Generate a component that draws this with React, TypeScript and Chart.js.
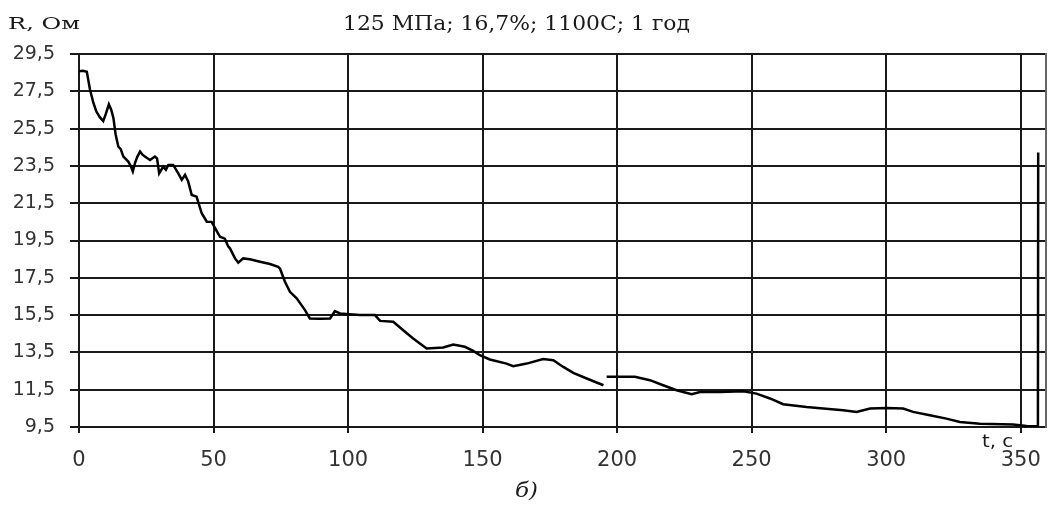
import React, { useEffect, useRef } from "react";
import { Chart, registerables } from "chart.js";

Chart.register(...registerables);

// time, s
const timeValues: number[] = [
  0, 1.5, 2.9, 4.1, 5.3, 6.5, 7.8, 9.0, 10.0, 11.1, 12.0, 12.8, 13.6, 14.6, 15.5, 16.5, 18.3, 19.2, 20.0, 20.8,
  21.7, 22.7, 23.6, 24.5, 26.4, 28.2, 29.0, 29.8, 31.3, 32.3, 33.2, 35.0, 36.9, 38.2, 39.4, 40.6, 41.9, 43.7,
  45.6, 47.5, 49.3, 51.2, 52.4, 54.2, 55.5, 56.1, 58.0, 59.2, 61.0, 63.5, 67.3, 71.0, 74.0, 74.7, 76.5, 78.4,
  80.9, 84.0, 85.8, 89.5, 93.3, 95.1, 97.0, 100.5, 104.4, 110.0, 111.9, 116.8, 120.5, 124.2, 129.2, 135.4,
  139.1, 143.4, 146.5, 149.0, 152.7, 158.9, 161.4, 166.4, 172.5, 176.3, 180.0, 183.7, 188.7, 194.9, 195.5,
  196.1, 206.6, 212.2, 217.1, 222.1, 227.7, 230.8, 238.2, 246.9, 251.8, 256.8, 261.7, 270.4, 276.6, 284.0,
  289.0, 294.0, 300.1, 306.3, 310.0, 316.2, 322.4, 327.4, 334.8, 347.2, 352.2, 356.4, 356.5,
];

// resistance, Ohm (null = break in the record)
const resistanceValues: (number | null)[] = [
  28.57, 28.6, 28.55, 27.58, 26.9, 26.4, 26.1, 25.9, 26.3, 26.8, 26.5, 26.06, 25.2, 24.54, 24.4, 24.0, 23.73, 23.5, 23.2, 23.65,
  24.0, 24.27, 24.1, 24.0, 23.82, 24.0, 23.9, 23.1, 23.46, 23.29, 23.55, 23.55, 23.1, 22.75, 23.02, 22.66, 21.94, 21.85,
  20.96, 20.51, 20.5, 20.0, 19.7, 19.6, 19.17, 19.08, 18.54, 18.31, 18.54, 18.49, 18.36, 18.24, 18.09, 18.0, 17.3, 16.75,
  16.4, 15.77, 15.32, 15.3, 15.32, 15.71, 15.59, 15.55, 15.5, 15.5, 15.19, 15.14, 14.69, 14.25, 13.71, 13.76,
  13.92, 13.8, 13.58, 13.35, 13.12, 12.9, 12.76, 12.9, 13.14, 13.08, 12.72, 12.4, 12.1, 11.74, null,
  12.19, 12.19, 12.01, 11.74, 11.47, 11.26, 11.38, 11.38, 11.42, 11.29, 11.03, 10.72, 10.57, 10.49, 10.4,
  10.31, 10.49, 10.52, 10.49, 10.31, 10.13, 9.95, 9.77, 9.68, 9.63, 9.55, 9.54, 24.22,
];

const xTickValues: number[] = [0, 50, 100, 150, 200, 250, 300, 350];
const yTickValues: number[] = [9.5, 11.5, 13.5, 15.5, 17.5, 19.5, 21.5, 23.5, 25.5, 27.5, 29.5];

const yMin = 9.5;
const yMax = 29.5;
const xMin = 0;
const xMax = 359.4;

const titleText = "125 МПа; 16,7%; 1100С; 1 год";
const yAxisTitle = "R, Ом";
const xAxisTitle = "t, с";
const captionText = "б)";

function drawFitted(
  ctx: CanvasRenderingContext2D,
  text: string,
  x: number,
  y: number,
  font: string,
  align: "left" | "center",
  width: number
) {
  ctx.save();
  ctx.font = font;
  ctx.fillStyle = "#1a1a1a";
  ctx.textBaseline = "alphabetic";
  const w = ctx.measureText(text).width;
  const sx = width / w;
  const left = align === "center" ? x - width / 2 : x;
  ctx.translate(left, y);
  ctx.scale(sx, 1);
  ctx.textAlign = "left";
  ctx.fillText(text, 0, 0);
  ctx.restore();
}

const overlayPlugin = {
  id: "overlay",
  afterDraw(chart: any) {
    const { ctx, chartArea } = chart;
    ctx.save();
    ctx.strokeStyle = "#666";
    ctx.lineWidth = 2;
    ctx.beginPath();
    ctx.moveTo(chartArea.right, chartArea.top - 1);
    ctx.lineTo(chartArea.right, chartArea.bottom + 1);
    ctx.stroke();
    ctx.restore();
    drawFitted(ctx, yAxisTitle, 8, 29, '17px "DejaVu Serif"', "left", 72);
    drawFitted(ctx, titleText, 516.5, 30, '20px "DejaVu Serif"', "center", 347);
    drawFitted(ctx, xAxisTitle, 982, 447, '17px "DejaVu Sans"', "left", 31);
    drawFitted(ctx, captionText, 526.5, 497, 'italic 20px "DejaVu Serif"', "center", 23);
  },
};

export default function App() {
  const canvasRef = useRef<HTMLCanvasElement | null>(null);

  useEffect(() => {
    const canvas = canvasRef.current;
    if (!canvas) return;
    const points = timeValues.map((t, i) => ({ x: t, y: resistanceValues[i] }));
    const chart = new Chart(canvas, {
      type: "line",
      data: {
        datasets: [
          {
            data: points as any,
            borderColor: "#000",
            borderWidth: 2.5,
            pointRadius: 0,
            tension: 0,
            spanGaps: false,
            fill: false,
          },
        ],
      },
      options: {
        animation: false,
        responsive: false,
        devicePixelRatio: 1,
        events: [],
        layout: { padding: { left: 0, right: 3, top: 54, bottom: 0 } },
        plugins: { legend: { display: false }, tooltip: { enabled: false }, title: { display: false } },
        scales: {
          x: {
            type: "linear",
            min: xMin,
            max: xMax,
            afterFit: (s: any) => {
              s.height = 79;
              s.paddingLeft = 0;
              s.paddingRight = 0;
            },
            afterBuildTicks: (s: any) => {
              s.ticks = xTickValues.map((v) => ({ value: v }));
            },
            ticks: {
              color: "#333",
              font: { family: "'DejaVu Sans'", size: 21 },
              padding: 15,
              maxRotation: 0,
              autoSkip: false,
            },
            grid: { color: "#1a1a1a", lineWidth: 2, tickLength: 6 },
            border: { color: "#1a1a1a", width: 2 },
          },
          y: {
            type: "linear",
            min: yMin,
            max: yMax,
            afterFit: (s: any) => {
              s.width = 79;
              s.paddingTop = 0;
              s.paddingBottom = 0;
            },
            afterBuildTicks: (s: any) => {
              s.ticks = yTickValues.map((v) => ({ value: v }));
            },
            ticks: {
              color: "#333",
              font: { family: "'DejaVu Sans'", size: 19 },
              padding: 15,
              autoSkip: false,
              callback: (v: any) => Number(v).toFixed(1).replace(".", ","),
            },
            grid: { color: "#1a1a1a", lineWidth: 2, tickLength: 9 },
            border: { color: "#1a1a1a", width: 2 },
          },
        },
      },
      plugins: [overlayPlugin],
    });
    return () => chart.destroy();
  }, []);

  return (
    <div style={{ position: "absolute", left: 0, top: 0, width: 1049, height: 506, background: "#fff" }}>
      <canvas ref={canvasRef} width={1049} height={506} style={{ display: "block" }} />
    </div>
  );
}
